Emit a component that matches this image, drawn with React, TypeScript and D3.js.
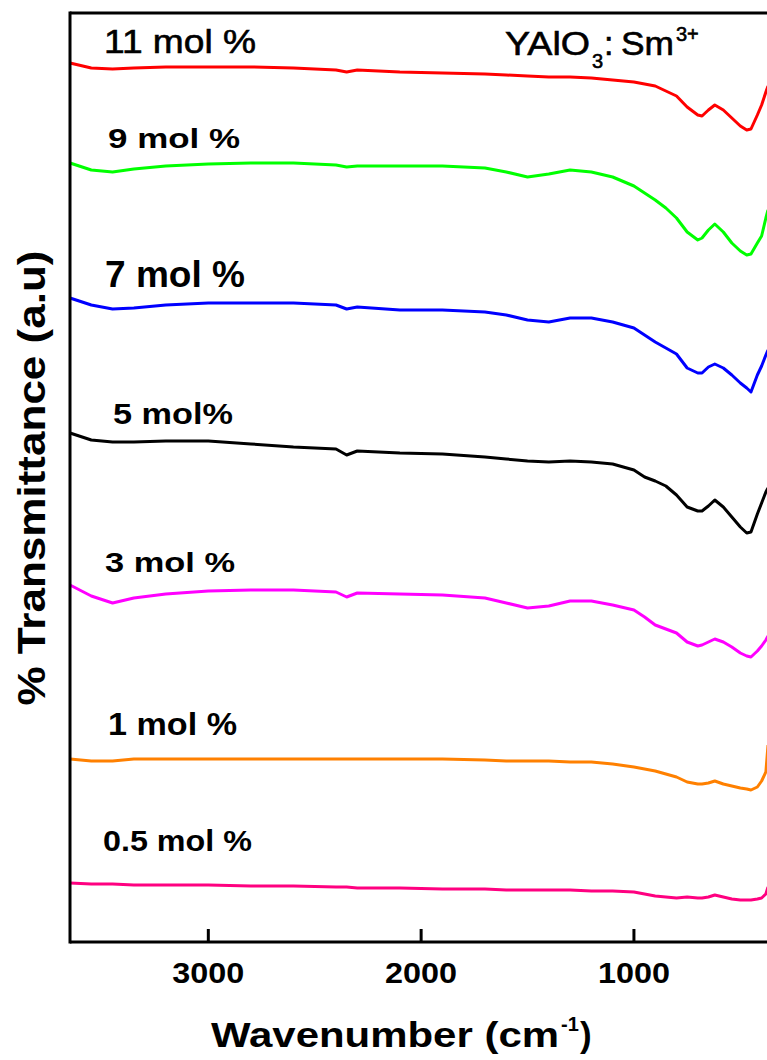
import React from "react";
import * as d3 from "d3";

// Wavenumber grid (cm^-1)
const wavenumbers = [3650,3550,3450,3350,3200,3000,2800,2600,2400,2350,2300,2100,1900,1700,1600,1500,1400,1300,1200,1100,1000,950,900,850,800,750,700,680,650,620,580,540,500,470,450,420,400,380,370];

// % Transmittance (a.u., stacked)
const t11 = [87.7,87.2,87.1,87.2,87.3,87.3,87.3,87.2,87.0,86.8,87.0,86.8,86.7,86.6,86.5,86.4,86.3,86.3,86.2,86.0,85.8,85.6,85.4,84.9,84.4,83.3,82.5,82.4,83.0,83.5,83.0,82.2,81.4,81.0,81.1,82.5,83.5,84.8,85.4];
const t9 = [77.7,77.0,76.8,77.1,77.4,77.6,77.7,77.7,77.5,77.3,77.4,77.4,77.4,77.2,76.8,76.3,76.6,77.0,76.8,76.3,75.4,74.7,74.0,73.2,72.2,70.8,70.0,70.2,71.0,71.6,70.8,69.7,68.9,68.5,68.6,69.7,70.4,72.2,73.0];
const t7 = [64.2,63.5,63.1,63.2,63.5,63.7,63.7,63.7,63.5,63.1,63.3,63.0,63.0,62.8,62.5,62.0,61.8,62.2,62.2,61.8,61.2,60.5,59.8,59.2,58.6,57.2,56.7,56.7,57.3,57.6,57.2,56.5,55.7,55.2,54.8,56.5,57.4,58.5,59.0];
const t5 = [50.7,50.0,49.8,49.8,49.9,49.9,49.6,49.3,49.1,48.5,48.9,48.7,48.6,48.3,48.1,47.9,47.8,47.9,47.8,47.6,47.0,46.3,45.9,45.4,44.5,43.3,42.9,42.9,43.4,44.0,43.3,42.3,41.3,40.7,40.8,42.6,43.7,44.8,45.2];
const t3 = [35.5,34.4,33.7,34.2,34.6,34.9,35.0,35.0,34.8,34.3,34.7,34.6,34.5,34.2,33.7,33.2,33.4,33.9,33.9,33.5,33.0,32.3,31.5,31.1,30.7,29.8,29.4,29.5,29.8,30.1,29.8,29.3,28.7,28.4,28.3,28.9,29.4,30.0,30.4];
const t1 = [18.1,17.9,17.9,18.1,18.1,18.1,18.1,18.1,18.1,18.1,18.1,18.1,18.1,18.0,17.9,17.9,17.9,17.8,17.8,17.6,17.3,17.1,16.9,16.6,16.3,15.8,15.6,15.6,15.7,15.9,15.6,15.4,15.2,15.1,15.0,15.3,15.9,16.8,19.5];
const t05 = [5.7,5.6,5.6,5.5,5.5,5.5,5.4,5.4,5.3,5.3,5.2,5.2,5.1,5.1,5.0,5.0,5.0,5.0,4.9,4.9,4.8,4.6,4.4,4.3,4.2,4.3,4.2,4.2,4.3,4.5,4.3,4.1,4.0,4.0,4.0,4.1,4.2,4.6,5.3];

const seriesNames = ["11 mol %", "9 mol %", "7 mol %", "5 mol%", "3 mol %", "1 mol %", "0.5 mol %"];
const seriesValues = [t11, t9, t7, t5, t3, t1, t05];
const xTickValues = [3000, 2000, 1000];

const colors = ["#ff0000", "#00ff00", "#0000ff", "#000000", "#ff00ff", "#ff8000", "#ff0080"];
// label layout: [x, baseline y, fontSize, weight, textLength]
const labelLayout: [number, number, number, string, number][] = [
  [104, 53, 33, "normal", 152],
  [108, 148, 28, "bold", 132],
  [105, 287, 37, "bold", 140],
  [113, 424, 29, "bold", 120],
  [105, 572, 28, "bold", 130],
  [108, 735, 32, "bold", 129],
  [103, 851, 29, "bold", 149],
];

const FONT = "Arial, 'Liberation Sans', sans-serif";

export default function App() {
  const W = 767, H = 1060;
  const left = 70, top = 13, bottom = 942, right = 768;
  const x = d3.scaleLinear().domain([3650, 370]).range([left, right]);
  const y = d3.scaleLinear().domain([-0.2, 92.7]).range([bottom, top]);
  const line = d3.line<number>()
    .x((_, i) => x(wavenumbers[i]))
    .y((d) => y(d));

  return (
    <svg width={W} height={H} style={{ position: "absolute", left: 0, top: 0, display: "block", background: "#fff" }} fontFamily={FONT}>
      <rect x={0} y={0} width={W} height={H} fill="#fff" />
      {seriesValues.map((vals, i) => (
        <path key={i} d={line(vals) || ""} fill="none" stroke={colors[i]} strokeWidth={3} strokeLinejoin="round" />
      ))}
      {/* frame */}
      <line x1={left} y1={top} x2={W + 5} y2={top} stroke="#000" strokeWidth={3} />
      <line x1={left} y1={top - 1.5} x2={left} y2={bottom + 1.5} stroke="#000" strokeWidth={3} />
      <line x1={left} y1={bottom} x2={W + 5} y2={bottom} stroke="#000" strokeWidth={3} />
      {xTickValues.map((t) => (
        <g key={t}>
          <line x1={x(t)} x2={x(t)} y1={bottom} y2={bottom - 13} stroke="#000" strokeWidth={3} />
          <text x={x(t)} y={983} textAnchor="middle" fontSize={29} fontWeight="bold" textLength={72} lengthAdjust="spacingAndGlyphs">{t}</text>
        </g>
      ))}
      {/* series labels */}
      {seriesNames.map((n, i) => {
        const [lx, ly, fs, fw, tl] = labelLayout[i];
        return (
          <text key={n} x={lx} y={ly} fontSize={fs} fontWeight={fw} textLength={tl} lengthAdjust="spacingAndGlyphs" fill="#000" stroke={fw === "normal" ? "#000" : "none"} strokeWidth={0.6}>{n}</text>
        );
      })}
      {/* compound label */}
      <g stroke="#000" strokeWidth={0.6} fill="#000">
        <text x={505} y={55} fontSize={34} textLength={85} lengthAdjust="spacingAndGlyphs">YAlO</text>
        <text x={592} y={68} fontSize={20}>3</text>
        <text x={604} y={55} fontSize={34}>:</text>
        <text x={621} y={55} fontSize={34} textLength={53} lengthAdjust="spacingAndGlyphs">Sm</text>
        <text x={676} y={41} fontSize={20}>3+</text>
      </g>
      {/* x axis title */}
      <text x={211} y={1047} fontSize={35} fontWeight="bold" textLength={348} lengthAdjust="spacingAndGlyphs">Wavenumber (cm</text>
      <text x={561} y={1031} fontSize={20} fontWeight="bold">-1</text>
      <text x={580} y={1047} fontSize={35} fontWeight="bold">)</text>
      {/* y axis title */}
      <text transform="translate(45,478) rotate(-90)" textAnchor="middle" fontSize={38} fontWeight="bold" textLength={455} lengthAdjust="spacingAndGlyphs">% Transmittance (a.u)</text>
    </svg>
  );
}
